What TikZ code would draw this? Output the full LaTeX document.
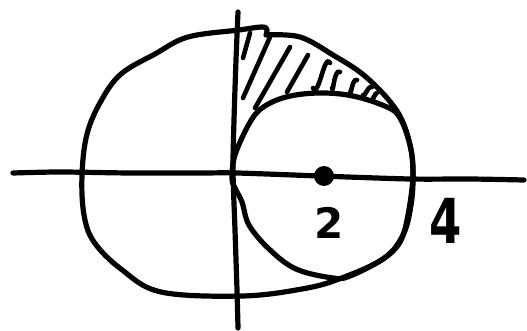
\documentclass[tikz,border=0pt]{standalone}
\usepackage{fontspec}
\setmainfont{DejaVu Sans}
\begin{document}
\begin{tikzpicture}[x=1pt,y=-1pt,
  pen/.style={line width=5.2pt, line cap=round, line join=round},
  hatch/.style={line width=4.6pt, line cap=round},
  lbl/.style={inner sep=0pt}]
\useasboundingbox (0,0) rectangle (527,331);
% axes
\draw[pen] plot[smooth] coordinates {(13,173) (60,172) (130,173) (200,173) (237,173) (320,176) (410,179) (470,179) (524,180)};
\draw[pen] plot[smooth] coordinates {(238,12) (236,60) (234,120) (233,170) (235,230) (237,290) (238,328)};
% big curve
\draw[pen] plot[smooth, tension=0.6] coordinates {(266,35) (300,37) (333,55) (366,77) (397,111) (410,145) (413,175) (411,205) (403,235) (383,259) (339,279) (302,289) (242,296) (161,292) (121,269) (94,242) (84,215) (82,175) (87,134) (101,101) (121,74) (155,54) (188,37) (239,30) (262,27) (267,30) (266,35)};
% small curve
\draw[pen] plot[smooth cycle, tension=0.6] coordinates {(232,178) (235,155) (249,124) (262,108) (286,97) (319,93) (353,96) (387,107) (400,118) (410,145) (413,175) (408,215) (400,242) (383,259) (350,276) (333,278) (296,269) (269,249) (249,225) (242,202) (235,188)};
% centre dot
\fill (324,176) circle (10);
% hatching
\draw[hatch] (243,58) -- (250,33);
\draw[hatch] (243,98) -- (270,37);
\draw[hatch] (255,108) -- (290,47);
\draw[hatch] (287,92) -- (308,55);
\draw[hatch] (313,88) to[out=-60,in=120] (330,63);
\draw[hatch] (332,88) to[out=-80,in=150] (340,72);
\draw[hatch] (350,92) to[out=-80,in=160] (357,80);
\draw[hatch] (363,95) to[out=-80,in=160] (372,87);
\draw[hatch] (373,98) to[out=-80,in=180] (377,93);
% labels
\node[lbl, font=\fontsize{42}{42}\selectfont\bfseries] (two) at (329,223) {2};
\node[lbl, xscale=0.75, font=\fontsize{62}{62}\selectfont\bfseries] (four) at (446,221) {4};
\end{tikzpicture}
\end{document}
